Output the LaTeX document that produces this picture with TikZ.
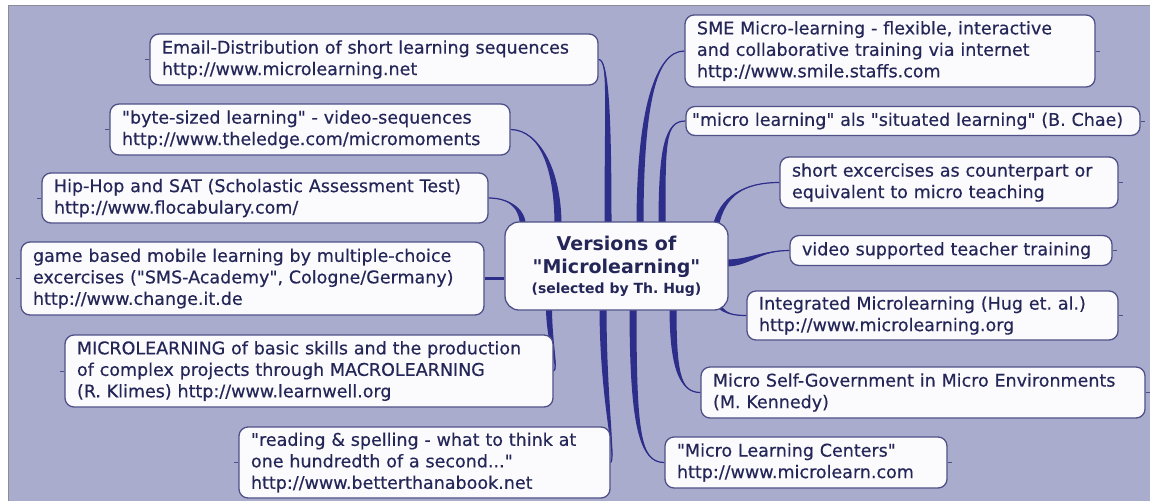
\documentclass[tikz,border=0pt]{standalone}
\usepackage{fontspec}
\setmainfont{DejaVu Sans}[Ligatures=TeXOff]
\newfontfamily\leaffamily{DejaVu Sans}[Ligatures=TeXOff,FakeBold=0.4]
\usetikzlibrary{calc,backgrounds}

\definecolor{paper}{RGB}{170,172,206}
\definecolor{paperrule}{RGB}{140,140,150}
\definecolor{edgeblue}{RGB}{45,46,138}
\definecolor{ink}{RGB}{36,38,88}
\definecolor{frame}{RGB}{78,80,135}
\definecolor{boxfill}{RGB}{251,251,253}

\pgfdeclarelayer{paperlayer}
\pgfsetlayers{paperlayer,background,main}

% tapered branch: start, control 1, control 2, end, half width at the start
\newcommand\branch[5]{%
  \fill[edgeblue] ($#1+#5$) .. controls ($#2+#5$) and #3 .. #4
    .. controls #3 and ($#2-#5$) .. ($#1-#5$) -- cycle;
  \draw[edgeblue, line width=1.2pt] #1 .. controls #2 and #3 .. #4;}

\newcommand\leaffont{\leaffamily\fontsize{17.5}{21.5}\selectfont}

\tikzset{
  leaf/.style={draw=frame, line width=1.3pt, fill=boxfill, rounded corners=9pt,
    inner xsep=12pt, inner ysep=0pt, align=left, text=ink, font=\leaffont},
  hub/.style={draw=frame, line width=1.3pt, fill=boxfill, rounded corners=14pt,
    inner sep=0pt, align=center, text=ink,
    font=\fontsize{19}{23}\selectfont\bfseries},
  stub/.style={draw=frame, line width=1pt},
  flatbranch/.style={draw=edgeblue, line width=2.5pt}
}

\begin{document}
\frenchspacing
\begin{tikzpicture}[x=1pt,y=-1pt]
\useasboundingbox (0,0) rectangle (1150,501);

% central topic
\node[hub, minimum width=223pt, minimum height=88pt] (c) at (616.5,266)
  {Versions of\\"Microlearning"\\[-3pt]
   {\fontsize{14}{17}\selectfont (selected by Th. Hug)}};

% left side topics
\node[leaf, text width=424pt, minimum height=51pt] (email) at (374,59.5)
  {Email-Distribution of short learning sequences\\http://www.microlearning.net};
\node[leaf, text width=376pt, minimum height=51pt] (byte) at (310,129.5)
  {"byte-sized learning" - video-sequences\\http://www.theledge.com/micromoments};
\node[leaf, text width=422pt, minimum height=50pt] (hiphop) at (265,198)
  {Hip-Hop and SAT (Scholastic Assessment Test)\\http://www.flocabulary.com/};
\node[leaf, text width=439pt, minimum height=73pt] (game) at (252.5,278.5)
  {game based mobile learning by multiple-choice\\excercises ("SMS-Academy", Cologne/Germany)\\http://www.change.it.de};
\node[leaf, text width=464pt, minimum height=72pt] (micro) at (309,371)
  {MICROLEARNING of basic skills and the production\\of complex projects through MACROLEARNING\\(R. Klimes) http://www.learnwell.org};
\node[leaf, text width=347pt, minimum height=71pt] (reading) at (424.5,462.5)
  {"reading \& spelling - what to think at\\one hundredth of a second..."\\http://www.betterthanabook.net};

% right side topics
\node[leaf, text width=386pt, minimum height=72pt] (sme) at (890,51)
  {SME Micro-learning - flexible, interactive\\and collaborative training via internet\\http://www.smile.staffs.com};
\node[leaf, inner xsep=6pt, text width=442pt, minimum height=29pt] (chae) at (913,121)
  {"micro learning" als "situated learning" (B. Chae)};
\node[leaf, text width=314pt, minimum height=51pt] (short) at (949,182.5)
  {short excercises as counterpart or\\equivalent to micro teaching};
\node[leaf, text width=298pt, minimum height=30pt] (video) at (951,250.5)
  {video supported teacher training};
\node[leaf, text width=347pt, minimum height=49pt] (integ) at (932.5,315.5)
  {Integrated Microlearning (Hug et. al.)\\http://www.microlearning.org};
\node[leaf, text width=420pt, minimum height=51pt] (selfgov) at (923,392.5)
  {Micro Self-Government in Micro Environments\\(M. Kennedy)};
\node[leaf, text width=258pt, minimum height=51pt] (centers) at (806,462.5)
  {"Micro Learning Centers"\\http://www.microlearn.com};

% collapse stubs on the outer sides
\foreach \n in {email,byte,hiphop,game,micro,reading}
  \draw[stub] (\n.west) -- ++(-4,0);
\foreach \n in {sme,chae,short,video,integ,selfgov,centers}
  \draw[stub] (\n.east) -- ++(4,0);

% branches
\begin{pgfonlayer}{background}
  \branch{([xshift=-8.5pt,yshift=-4pt]c.north)}{(608,100)}{(608,60)}{(email.east)}{(3.5,0)}
  \branch{([xshift=-58.5pt,yshift=-4pt]c.north)}{(558,170)}{(540,130)}{(byte.east)}{(3.5,0)}
  \branch{([xshift=-93.5pt,yshift=-6pt]c.north)}{(523,205)}{(505,198)}{(hiphop.east)}{(3,0)}
  \draw[flatbranch] (game.east) -- (game.east -| c.west);
  \branch{([xshift=-67.5pt,yshift=4pt]c.south)}{(549,345)}{(559,368)}{(micro.east)}{(3,0)}
  \branch{([xshift=-13.5pt,yshift=4pt]c.south)}{(603,400)}{(616,458)}{(reading.east)}{(3.5,0)}

  \branch{([xshift=23.5pt,yshift=-4pt]c.north)}{(640,110)}{(655,51)}{(sme.west)}{(3.5,0)}
  \branch{([xshift=45.5pt,yshift=-4pt]c.north)}{(662,145)}{(665,121)}{(chae.west)}{(3.5,0)}
  \branch{([xshift=99pt,yshift=-6pt]c.north)}{(722,195)}{(745,182.5)}{(short.west)}{(3,0)}
  \branch{([xshift=-3pt,yshift=3pt]c.east)}{(750,263)}{(760,250.5)}{(video.west)}{(0,3.5)}
  \branch{([xshift=103pt,yshift=4pt]c.south)}{(725,314)}{(735,315.5)}{(integ.west)}{(2.5,0)}
  \branch{([xshift=56.5pt,yshift=4pt]c.south)}{(673,370)}{(680,392.5)}{(selfgov.west)}{(3.5,0)}
  \branch{([xshift=16.5pt,yshift=4pt]c.south)}{(633,430)}{(640,462.5)}{(centers.west)}{(3.5,0)}
\end{pgfonlayer}

% lavender sheet behind everything
\begin{pgfonlayer}{paperlayer}
  \fill[white] (0,0) rectangle (1150,501);
  \fill[paper] (8,5) rectangle (1150,501);
  \draw[paperrule, line width=0.8pt] (8,501) -- (8,5) -- (1150,5);
\end{pgfonlayer}
\end{tikzpicture}
\end{document}
